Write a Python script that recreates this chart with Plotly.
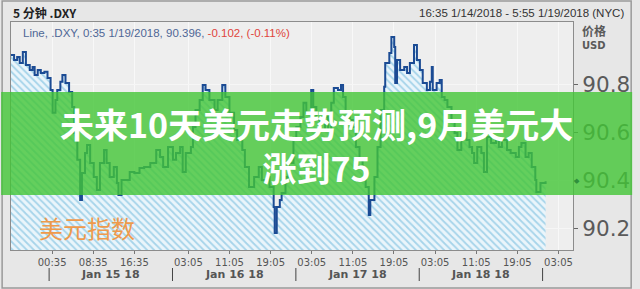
import pandas as pd
import plotly.graph_objects as go

# ---- data (hours after 16:35 1/14/2018, USD index value) ----
hours = [0, 0.6, 1.2, 1.7, 2.3, 2.9, 3.65, 4.2, 4.6, 5.2, 5.8, 6.5, 7.1, 7.7, 8.1, 8.65, 9.0, 9.6, 10.0, 10.6,
         11.3, 11.9, 12.3, 12.9, 13.45, 13.8, 14.4, 14.8, 15.4, 16.1, 16.7, 17.3, 18.1, 18.6, 19.2, 20.0, 20.6,
         20.9, 21.5, 22.5, 23.1, 24.0, 25.0, 25.9, 27.1, 28.25, 29.0, 29.6, 30.55, 31.5, 32.1, 32.9, 33.4, 34.0,
         35.0, 35.4, 35.9, 36.7, 37.3, 37.85, 38.6, 39.6, 40.2, 41.1, 41.7, 42.5, 43.4, 44.0, 45.0, 45.5, 46.3,
         47.3, 48.2, 48.8, 49.8, 50.3, 51.1, 51.3, 51.7, 52.3, 52.65, 53.4, 54.0, 54.95, 55.5, 56.3, 56.9, 57.45,
         58.4, 58.8, 59.4, 60.1, 61.1, 61.7, 62.3, 62.8, 63.6, 64.2, 64.6, 65.1, 65.9, 66.5, 67.1, 67.8, 68.4,
         69.0, 69.6, 69.9, 70.7, 71.3, 71.9, 72.6, 72.8, 73.6, 74.0, 74.55, 74.75, 75.1, 75.7, 76.5, 77.05, 77.6,
         78.4, 78.97, 79.55, 80.1, 80.9, 81.5, 81.86, 82.05, 82.8, 83.4, 83.8, 84.35, 84.9, 85.7, 86.3, 86.85,
         87.6, 88.6, 89.2, 89.7, 90.1, 90.7, 91.5, 92.0, 92.6, 93.4, 94.35, 94.9, 95.5, 96.5, 97.2, 98.2, 98.8,
         99.3, 100.1, 100.7, 101.3, 102.0, 102.2, 103.0, 103.6, 104.0]
values = [90.926, 90.905, 90.917, 90.892, 90.938, 90.884, 90.863, 90.875, 90.842, 90.863, 90.850, 90.855, 90.829,
          90.779, 90.683, 90.737, 90.779, 90.813, 90.842, 90.808, 90.771, 90.708, 90.599, 90.486, 90.318, 90.431,
          90.515, 90.548, 90.473, 90.414, 90.360, 90.473, 90.527, 90.473, 90.414, 90.456, 90.389, 90.339, 90.402,
          90.402, 90.435, 90.431, 90.452, 90.456, 90.473, 90.527, 90.498, 90.456, 90.540, 90.486, 90.515, 90.540,
          90.435, 90.515, 90.540, 90.624, 90.695, 90.737, 90.800, 90.779, 90.737, 90.695, 90.737, 90.800, 90.750,
          90.683, 90.611, 90.569, 90.527, 90.456, 90.372, 90.414, 90.456, 90.402, 90.414, 90.372, 90.288, 90.179,
          90.288, 90.318, 90.347, 90.414, 90.473, 90.569, 90.624, 90.666, 90.725, 90.683, 90.779, 90.708, 90.653,
          90.611, 90.666, 90.611, 90.725, 90.787, 90.779, 90.800, 90.750, 90.683, 90.653, 90.624, 90.540, 90.486,
          90.444, 90.372, 90.255, 90.318, 90.414, 90.540, 90.695, 90.792, 90.892, 90.934, 91.001, 90.959, 90.808,
          90.905, 90.863, 90.875, 90.850, 90.892, 90.968, 90.905, 90.863, 90.808, 90.779, 90.813, 90.875, 90.779,
          90.808, 90.821, 90.750, 90.737, 90.708, 90.653, 90.599, 90.527, 90.599, 90.569, 90.540, 90.515, 90.473,
          90.540, 90.515, 90.435, 90.582, 90.557, 90.569, 90.540, 90.569, 90.527, 90.515, 90.498, 90.540, 90.557,
          90.498, 90.515, 90.456, 90.402, 90.351, 90.389, 90.389, 90.396]

start_time = "2018-01-14 16:35"
end_time = "2018-01-19 05:55"
tick_times = ["2018-01-15 00:35", "2018-01-15 08:35", "2018-01-15 16:35",
              "2018-01-16 03:05", "2018-01-16 11:05", "2018-01-16 19:05",
              "2018-01-17 03:05", "2018-01-17 11:05", "2018-01-17 19:05",
              "2018-01-18 03:05", "2018-01-18 11:05", "2018-01-18 19:05",
              "2018-01-19 03:05"]
tick_labels = ["00:35", "08:35", "16:35", "03:05", "11:05", "19:05", "03:05", "11:05", "19:05",
               "03:05", "11:05", "19:05", "03:05"]
day_centers = ["2018-01-15 12:00", "2018-01-16 12:00", "2018-01-17 12:00", "2018-01-18 12:00"]
day_labels = ["Jan 15 18", "Jan 16 18", "Jan 17 18", "Jan 18 18"]
day_breaks = ["2018-01-15", "2018-01-16", "2018-01-17", "2018-01-18", "2018-01-19"]
y_ticks = [90.2, 90.4, 90.6, 90.8]
last_value = 90.396

times = pd.Timestamp(start_time) + pd.to_timedelta(hours, unit="h")

W, H = 640, 289
ML, MR, MT, MB = 10, 60, 22, 39
PW, PH = W - ML - MR, H - MT - MB


def px(xp):
    return (xp - ML) / PW


def py(yp):
    return (H - MB - yp) / PH


fig = go.Figure()
fig.add_trace(go.Scatter(
    x=times, y=values, mode="lines",
    line=dict(color="#1b4b94", width=2, shape="hv"),
    fill="tozeroy",
    fillpattern=dict(shape="\\", fgcolor="#a6d4ea", bgcolor="#eaf5fb", size=5, solidity=0.35, fillmode="replace"),
    hoverinfo="skip", showlegend=False,
))

fig.update_layout(
    width=W, height=H,
    margin=dict(l=ML, r=MR, t=MT, b=MB),
    paper_bgcolor="#e7e7e7", plot_bgcolor="#eeeeee",
    showlegend=False,
    xaxis=dict(type="date", range=[start_time, end_time], tickvals=tick_times, ticktext=tick_labels,
               tickfont=dict(family="DejaVu Sans", size=10, color="#555555"),
               ticks="outside", ticklen=3, tickcolor="#777777",
               showgrid=True, gridcolor="#f8f8f8", gridwidth=1,
               showline=True, linecolor="#8c8c8c", mirror=True, zeroline=False),
    yaxis=dict(range=[90.108, 91.064], side="right", tickvals=y_ticks,
               ticktext=[f"{v:.1f}" for v in y_ticks],
               tickfont=dict(family="DejaVu Sans", size=21.5, color="#5a5a5a"),
               ticks="outside", ticklen=4, tickcolor="#666666",
               showgrid=True, gridcolor="#f6f6f6", gridwidth=1,
               showline=True, linecolor="#8c8c8c", mirror=True, zeroline=False),
)

shapes = []
for d in day_breaks:
    shapes.append(dict(type="line", xref="x", yref="paper", x0=d, x1=d, y0=py(268), y1=py(281),
                       line=dict(color="#444444", width=1)))
shapes.append(dict(type="rect", xref="paper", yref="paper", x0=px(1), x1=px(639), y0=py(288), y1=py(1),
                   line=dict(color="#9a9a9a", width=1.5), fillcolor="rgba(0,0,0,0)", layer="below"))
shapes.append(dict(type="rect", xref="paper", yref="paper", x0=px(0), x1=px(640), y0=py(195), y1=py(92),
                   line=dict(width=0), fillcolor="rgba(66,197,54,0.8)", layer="above"))
fig.update_layout(shapes=shapes)

ann = []
for c, lab in zip(day_centers, day_labels):
    ann.append(dict(x=c, xref="x", y=py(274), yref="paper", text=f"<b>{lab}</b>", showarrow=False,
                    font=dict(family="DejaVu Sans", size=11, color="#555555"), xanchor="center", yanchor="middle"))
ann += [
    dict(x=px(10), y=py(13), xref="paper", yref="paper", text="<b>5 分钟 .DXY</b>", showarrow=False,
         xanchor="left", yanchor="middle", font=dict(family="Noto Sans CJK SC", size=12, color="#222222")),
    dict(x=px(634), y=py(13), xref="paper", yref="paper", text="16:35 1/14/2018 - 5:55 1/19/2018 (NYC)",
         showarrow=False, xanchor="right", yanchor="middle",
         font=dict(family="Liberation Sans", size=11.5, color="#333333")),
    dict(x=px(20), y=py(33), xref="paper", yref="paper",
         text="Line, .DXY, 0:35 1/19/2018, 90.396, <span style='color:#e0453c'>-0.102, (-0.11%)</span>",
         showarrow=False, xanchor="left", yanchor="middle",
         font=dict(family="Liberation Sans", size=11.5, color="#4e6796")),
    dict(x=px(587), y=py(30), xref="paper", yref="paper", text="<b>价格</b>", showarrow=False,
         xanchor="left", yanchor="middle", font=dict(family="Noto Sans CJK SC", size=12, color="#5a5a5a")),
    dict(x=px(587), y=py(45), xref="paper", yref="paper", text="<b>USD</b>", showarrow=False,
         xanchor="left", yanchor="middle", font=dict(family="DejaVu Sans", size=10, color="#5a5a5a")),
    dict(x=px(584), y=last_value, xref="paper", yref="y", text="◆", showarrow=False,
         xanchor="center", yanchor="middle", font=dict(family="DejaVu Sans", size=7, color="#2f8f3c")),
    dict(x=px(36), y=py(227), xref="paper", yref="paper", text="美元指数", showarrow=False,
         xanchor="left", yanchor="middle", font=dict(family="Noto Sans CJK SC", size=24, color="#ef9a4c")),
    dict(x=px(320), y=py(145), xref="paper", yref="paper",
         text="<b>未来10天美元走势预测,9月美元大<br>涨到75</b>",
         showarrow=False, xanchor="center", yanchor="middle", align="center",
         font=dict(family="Noto Sans CJK SC", size=34, color="#ffffff")),
]
fig.update_layout(annotations=ann)

fig.write_html("out.html")
